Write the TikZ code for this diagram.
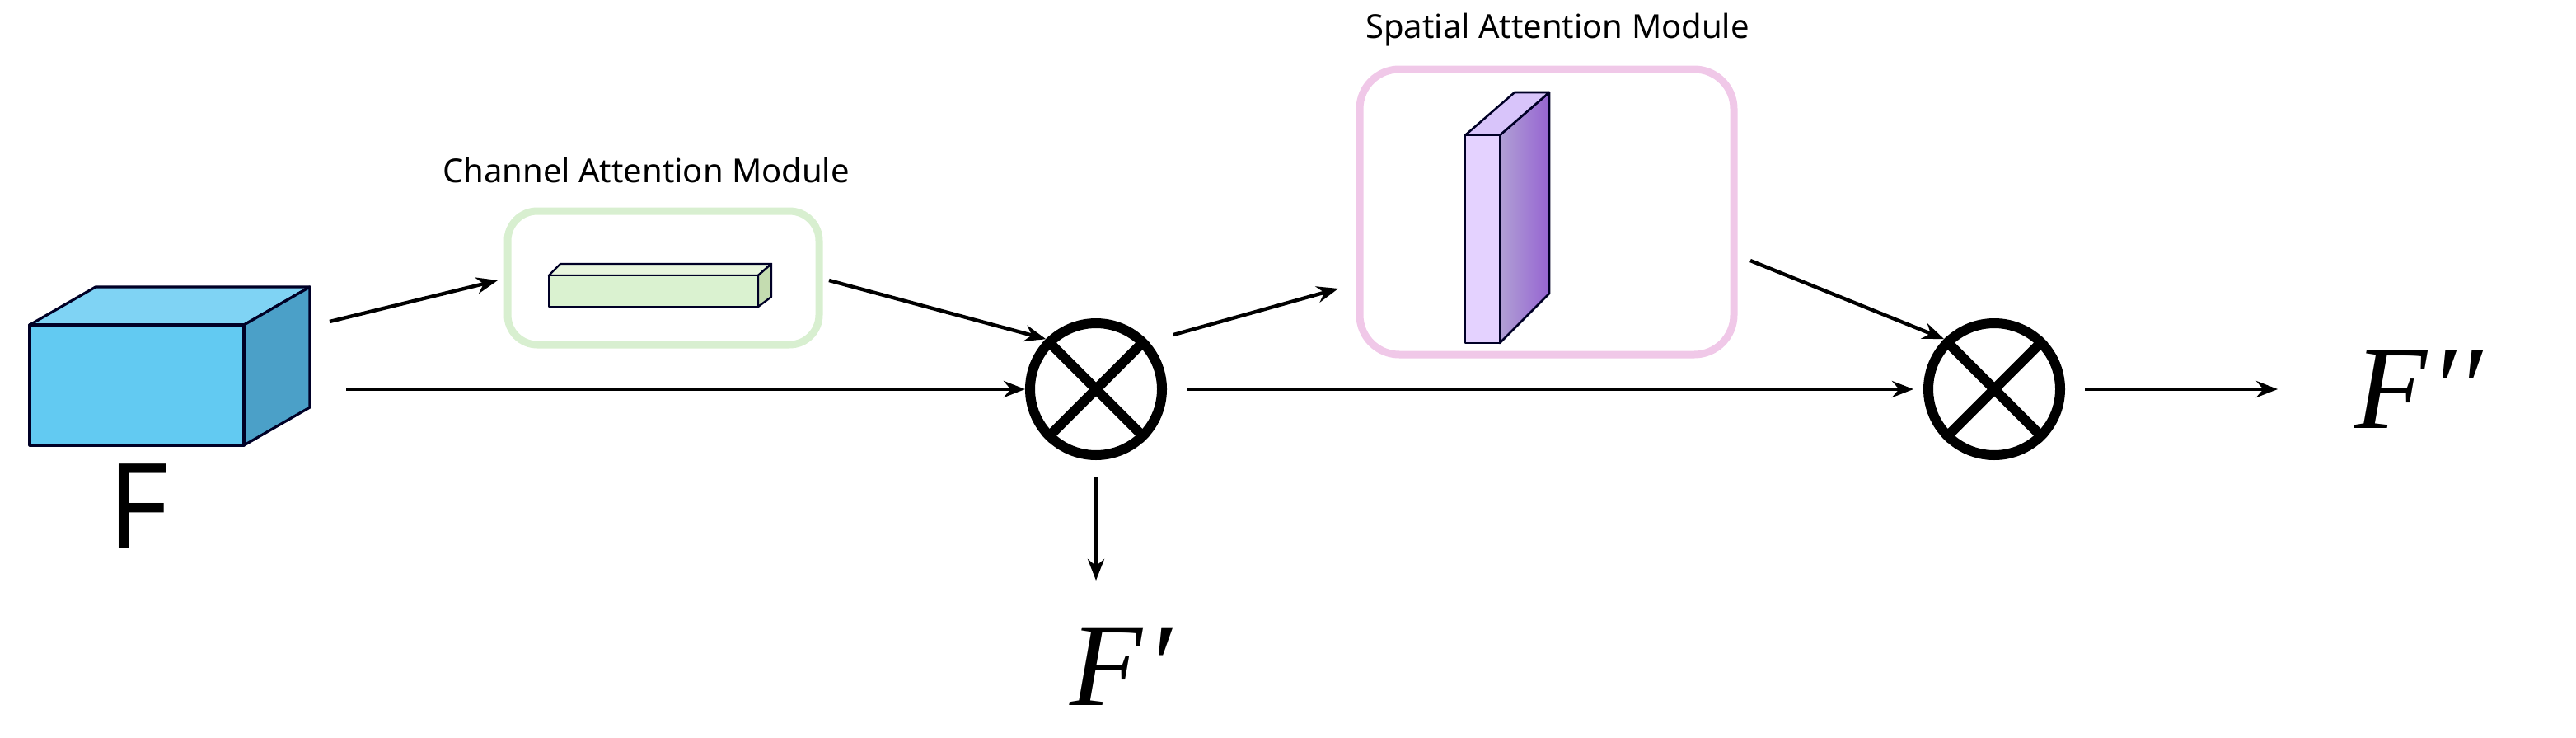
\documentclass[tikz,border=0pt]{standalone}
\usepackage{fontspec}
\setmainfont{Noto Sans}
\newfontfamily\mathserif{Liberation Serif}
\begin{document}
\begin{tikzpicture}[x=1pt,y=-1pt,
  arr/.style={line width=2.2pt,-{Stealth[length=13pt,width=10pt]}},
  otim/.style={circle,draw,line width=6pt,minimum size=80pt,inner sep=0pt},
  modbox/.style={rounded corners=18pt,line width=4.5pt},
  lbl/.style={font=\fontsize{20}{24}\selectfont},
  edge/.style={draw=black!85!blue,line width=1.6pt,line join=round}]
\useasboundingbox (0,0) rectangle (1563,447);
\usetikzlibrary{arrows.meta}
% cube
\filldraw[edge,fill=cyan!55!blue!45!white,fill={rgb,255:red,127;green,211;blue,244}] (18,197)--(58,174)--(188,174)--(148,197)--cycle;
\filldraw[edge,fill={rgb,255:red,75;green,160;blue,200}] (148,197)--(188,174)--(188,247)--(148,270)--cycle;
\filldraw[edge,fill={rgb,255:red,98;green,202;blue,242}] (18,197) rectangle (148,270);
\node[font=\fontsize{72}{80}\selectfont] (F) at (84,307) {F};
\coordinate (cube) at (200,195);
\coordinate (cubeR) at (210,236);
% channel module
\node[lbl] (ctext) at (392,103) {Channel Attention Module};
\draw[modbox,draw={rgb,255:red,216;green,239;blue,208}] (308,128) rectangle (497,209);
\node[minimum width=192pt,minimum height=84pt] (cam) at (402.5,168.5) {};
\filldraw[edge,line width=1.2pt,fill={rgb,255:red,232;green,246;blue,222}] (333,167)--(340,160)--(468,160)--(460,167)--cycle;
\filldraw[edge,line width=1.2pt,fill={rgb,255:red,196;green,220;blue,176}] (460,167)--(468,160)--(468,180)--(460,186)--cycle;
\filldraw[edge,line width=1.2pt,fill={rgb,255:red,218;green,242;blue,208}] (333,167) rectangle (460,186);
% otimes 1
\node[otim] (m1) at (665,236) {};
\draw[line width=6pt] (m1.north west)--(m1.south east) (m1.north east)--(m1.south west);
\node[font=\fontsize{72}{80}\selectfont\itshape\mathserif] (Fp) at (680,404) {F\kern2pt′};
% spatial module
\node[lbl] (stext) at (945,18) {Spatial Attention Module};
\draw[modbox,rounded corners=24pt,draw={rgb,255:red,240;green,200;blue,232}] (825,42) rectangle (1052,215);
\node[minimum width=230pt,minimum height=176pt] (sam) at (938.5,128.5) {};
\shade[left color={rgb,255:red,176;green,160;blue,212},right color={rgb,255:red,150;green,100;blue,210}] (910,82)--(940,56)--(940,178)--(910,208)--cycle;
\draw[edge,line width=1.3pt] (910,82)--(940,56)--(940,178)--(910,208)--cycle;
\filldraw[edge,line width=1.3pt,fill={rgb,255:red,216;green,196;blue,250}] (889,82)--(919,56)--(940,56)--(910,82)--cycle;
\filldraw[edge,line width=1.3pt,fill={rgb,255:red,228;green,210;blue,255}] (889,82) rectangle (910,208);
% otimes 2
\node[otim] (m2) at (1210,236) {};
\draw[line width=6pt] (m2.north west)--(m2.south east) (m2.north east)--(m2.south west);
\node[font=\fontsize{72}{80}\selectfont\itshape\mathserif,anchor=west] (Fpp) at (1425,236) {F\kern2pt′′};
% arrows
\draw[arr] (cube)--(302,170);
\draw[arr] (503,170)--(m1.north west);
\draw[arr] (cubeR)--(m1.west);
\draw[arr] (m1.south)++(0,10)--(665,352);
\draw[arr] (712,203)--(812,175);
\draw[arr] (1062,158)--(m2.north west);
\draw[arr] ([xshift=12pt]m1.east)--([xshift=-6pt]m2.west);
\draw[arr] ([xshift=12pt]m2.east)--(1382,236);
\end{tikzpicture}
\end{document}
